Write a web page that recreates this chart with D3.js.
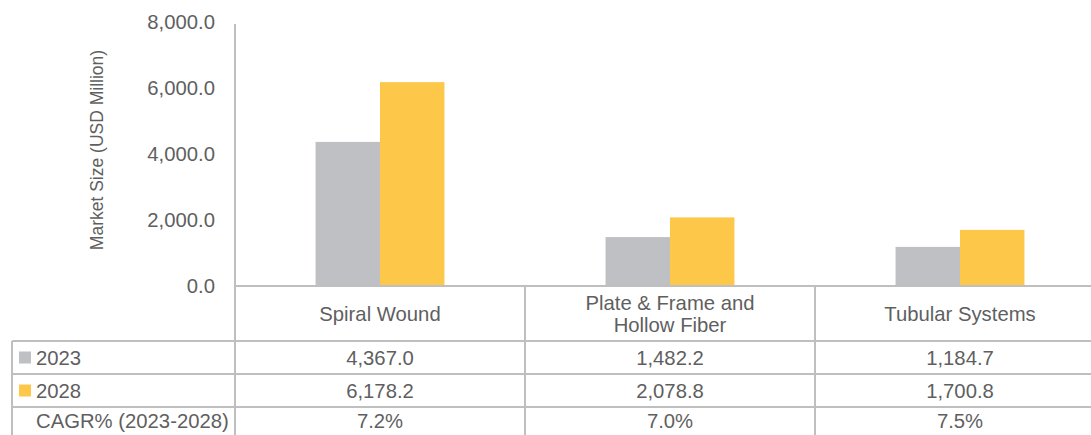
<!DOCTYPE html>
<html>
<head>
<meta charset="utf-8">
<script src="https://cdn.jsdelivr.net/npm/d3@7"></script>
<style>
  html, body { margin: 0; padding: 0; background: #fff; }
  svg { display: block; }
  text { font-family: "Liberation Sans", Arial, sans-serif; fill: #5f5f5f; }
</style>
</head>
<body>
<svg id="chart" width="1091" height="435"></svg>
<script>
// Membrane market size by module type
const categories = ["Spiral Wound", "Plate & Frame and\nHollow Fiber", "Tubular Systems"];
const seriesNames = ["2023", "2028"];
const values2023 = [4367.0, 1482.2, 1184.7];
const values2028 = [6178.2, 2078.8, 1700.8];
const cagr = ["7.2%", "7.0%", "7.5%"];
const yTicks = [0, 2000, 4000, 6000, 8000];
const colors = ["#BFC0C4", "#FDC74A"];

const svg = d3.select("#chart");
const W = 1091, H = 435;
const left = 235, bandW = 290;
const zeroY = 286, topY = 22;
const gridColor = "#BFBFBF";
const fontSize = "20.3px";
const fmt = d3.format(",.1f");

const x = d3.scaleBand()
  .domain(categories)
  .range([left, left + bandW * categories.length])
  .paddingInner(0).paddingOuter(0);
const x1 = d3.scaleBand().domain(seriesNames).range([0, x.bandwidth()]).paddingInner(0).paddingOuter(1.25);
const y = d3.scaleLinear().domain([0, 8000]).range([zeroY, topY]);

// Y axis tick labels
const yAxis = d3.axisLeft(y).tickValues(yTicks).tickSize(0).tickPadding(20).tickFormat(fmt);
const gy = svg.append("g").attr("transform", `translate(${left},0)`).call(yAxis);
gy.select(".domain").remove();
gy.selectAll("text").style("font-size", fontSize).attr("fill", "#5f5f5f").attr("font-family", "Liberation Sans, Arial, sans-serif");

// Axis title
svg.append("text")
  .attr("transform", `translate(103,150) rotate(-90)`)
  .attr("text-anchor", "middle")
  .style("font-size", "17.5px")
  .text("Market Size (USD Million)");

// Bars
const series = [values2023, values2028];
const groups = svg.append("g").selectAll("g")
  .data(categories)
  .join("g")
  .attr("transform", d => `translate(${x(d)},0)`);
groups.selectAll("rect")
  .data((d, i) => seriesNames.map((s, j) => ({ s, v: series[j][i], j })))
  .join("rect")
  .attr("x", d => x1(d.s))
  .attr("y", d => y(d.v))
  .attr("width", x1.bandwidth())
  .attr("height", d => zeroY - y(d.v))
  .attr("fill", d => colors[d.j]);

// Table grid
const rowY = [zeroY, 341, 374, 407, H];
const tableLeft = 12;
const lines = svg.append("g").attr("stroke", gridColor).attr("stroke-width", 2);
// vertical axis line running down through table
lines.append("line").attr("x1", left).attr("x2", left).attr("y1", topY + 2).attr("y2", H);
// band dividers
categories.forEach((c, i) => {
  if (i > 0) lines.append("line").attr("x1", x(c)).attr("x2", x(c)).attr("y1", zeroY).attr("y2", H);
});
// zero line
lines.append("line").attr("x1", left).attr("x2", W).attr("y1", zeroY).attr("y2", zeroY);
// row lines
[341, 374, 407].forEach(ry => {
  lines.append("line").attr("x1", tableLeft).attr("x2", W).attr("y1", ry).attr("y2", ry);
});
lines.append("line").attr("x1", tableLeft).attr("x2", tableLeft).attr("y1", 341).attr("y2", H);

// Category header labels
categories.forEach(c => {
  const parts = c.split("\n");
  const cy = (zeroY + 341) / 2;
  const lh = 22;
  const t = svg.append("text")
    .attr("x", x(c) + x.bandwidth() / 2)
    .attr("text-anchor", "middle")
    .style("font-size", fontSize);
  parts.forEach((p, k) => {
    t.append("tspan")
      .attr("x", x(c) + x.bandwidth() / 2)
      .attr("y", cy + (k - (parts.length - 1) / 2) * lh)
      .attr("dy", "0.35em")
      .text(p);
  });
});

// Table rows
const rows = [
  { label: "2023", color: colors[0], cells: values2023.map(fmt) },
  { label: "2028", color: colors[1], cells: values2028.map(fmt) },
  { label: "CAGR% (2023-2028)", color: null, cells: cagr }
];
rows.forEach((r, i) => {
  const cy = (rowY[i + 1] + rowY[i + 2]) / 2;
  if (r.color) {
    svg.append("rect").attr("x", 19).attr("y", cy - 6).attr("width", 12).attr("height", 12).attr("fill", r.color);
  }
  svg.append("text").attr("x", 36).attr("y", cy).attr("dy", "0.35em")
    .style("font-size", fontSize).text(r.label);
  r.cells.forEach((v, k) => {
    svg.append("text")
      .attr("x", x(categories[k]) + x.bandwidth() / 2)
      .attr("y", cy).attr("dy", "0.35em")
      .attr("text-anchor", "middle")
      .style("font-size", fontSize)
      .text(v);
  });
});
</script>
</body>
</html>
